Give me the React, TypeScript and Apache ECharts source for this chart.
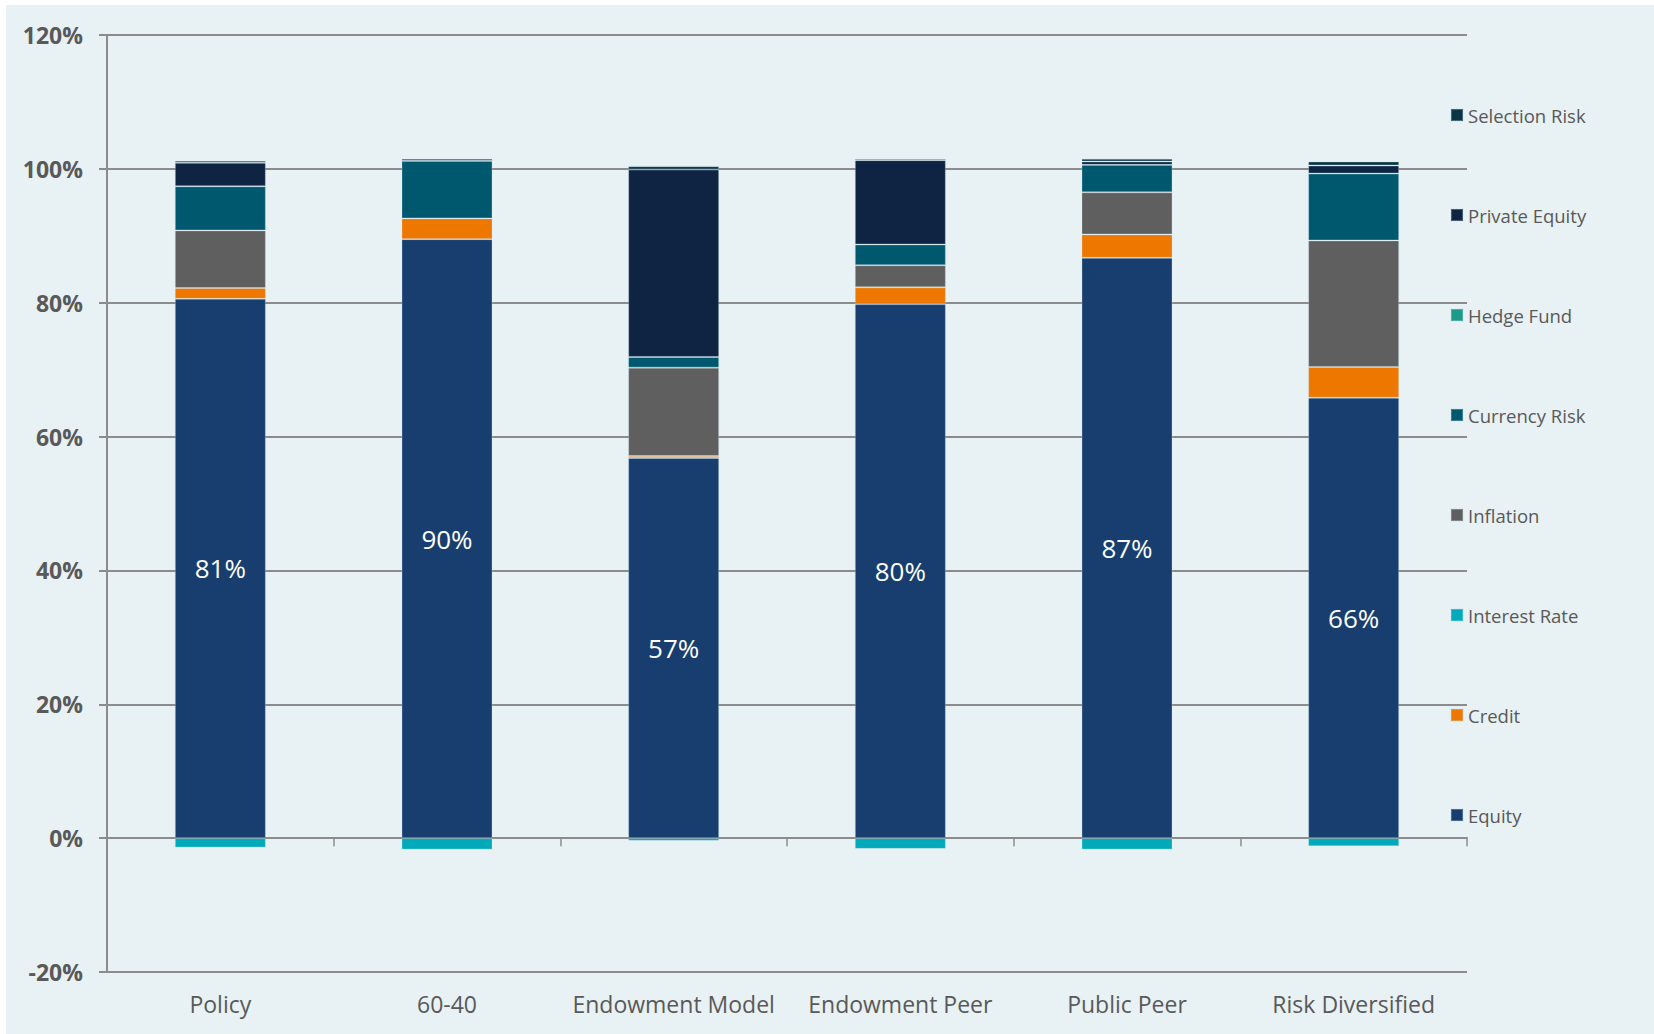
import React, { useEffect, useRef } from "react";
import * as echarts from "echarts";

const categories = ["Policy", "60-40", "Endowment Model", "Endowment Peer", "Public Peer", "Risk Diversified"];

const equity = [80.6, 89.5, 56.8, 79.8, 86.7, 65.8];
const credit = [1.6, 3.1, 0.3, 2.5, 3.5, 4.6];
const interestRate = [-1.4, -1.7, -0.4, -1.6, -1.7, -1.2];
const inflation = [8.6, 0, 13.2, 3.3, 6.3, 18.9];
const currencyRisk = [6.6, 8.6, 1.6, 3.1, 4.1, 10.0];
const hedgeFund = [0, 0, 0, 0, 0, 0];
const privateEquity = [3.5, 0, 28.0, 12.6, 0.5, 1.2];
const selectionRisk = [0.3, 0.3, 0.5, 0.2, 0.4, 0.6];

const yTicks = [-20, 0, 20, 40, 60, 80, 100, 120];

const seriesDefs = [
  { name: "Equity", data: equity, color: "#173E6E" },
  { name: "Credit", data: credit, color: "#EE7700" },
  { name: "Interest Rate", data: interestRate, color: "#00AABB" },
  { name: "Inflation", data: inflation, color: "#5F5F5F" },
  { name: "Currency Risk", data: currencyRisk, color: "#00586F" },
  { name: "Hedge Fund", data: hedgeFund, color: "#1E9A8A" },
  { name: "Private Equity", data: privateEquity, color: "#0F2442" },
  { name: "Selection Risk", data: selectionRisk, color: "#0A3545" },
];

const FONT = "'Open Sans', 'DejaVu Sans', sans-serif";
const TXT = "#595959";
const LINE = "#8C8C8C";

export default function App() {
  const ref = useRef<HTMLDivElement>(null);
  useEffect(() => {
    if (!ref.current) return;
    const chart = echarts.init(ref.current, null, { renderer: "svg" });
    chart.setOption({
      animation: false,
      backgroundColor: "#E8F1F4",
      textStyle: { fontFamily: FONT },
      grid: { left: 101, right: 187, top: 30, bottom: 62, containLabel: false },
      legend: {
        orient: "vertical",
        left: 1439,
        top: 93,
        itemWidth: 12,
        itemHeight: 12,
        itemGap: 76,
        icon: "rect",
        data: seriesDefs.map((s) => s.name).reverse(),
        textStyle: { fontFamily: FONT, fontSize: 18.5, color: TXT, lineHeight: 24 },
        selectedMode: false,
      },
      xAxis: [
        {
          type: "category",
          data: categories,
          position: "bottom",
          axisLine: { show: true, onZero: true, lineStyle: { color: LINE, width: 2 } },
          axisTick: { show: true, length: 8, interval: 0, lineStyle: { color: LINE, width: 1.5 } },
          axisLabel: { show: false },
          splitLine: { show: false },
        },
        {
          type: "category",
          data: categories,
          position: "bottom",
          axisLine: { show: false, onZero: false },
          axisTick: { show: false },
          axisLabel: { show: true, interval: 0, margin: 20, fontSize: 23, color: TXT, fontFamily: FONT },
          splitLine: { show: false },
        },
      ],
      yAxis: {
        type: "value",
        min: yTicks[0],
        max: yTicks[yTicks.length - 1],
        interval: 20,
        axisLine: { show: true, lineStyle: { color: LINE, width: 2 } },
        axisTick: { show: true, length: 8, lineStyle: { color: LINE, width: 2 } },
        axisLabel: {
          formatter: "{value}%",
          fontSize: 23,
          fontWeight: "bold",
          color: TXT,
          margin: 24,
          fontFamily: FONT,
        },
        splitLine: { show: true, lineStyle: { color: LINE, width: 2 } },
      },
      series: seriesDefs.map((s) => ({
        name: s.name,
        type: "bar",
        stack: "total",
        xAxisIndex: 0,
        barWidth: 91,
        data: s.data,
        itemStyle: { color: s.color, borderColor: "rgba(200,225,235,0.3)", borderWidth: 1 },
        label:
          s.name === "Equity"
            ? {
                show: true,
                position: "inside",
                color: "#FFFFFF",
                fontSize: 26,
                fontFamily: FONT,
                formatter: (p: any) => Math.round(p.value) + "%",
              }
            : { show: false },
        emphasis: { disabled: true },
      })),
    });
    return () => chart.dispose();
  }, []);
  return (
    <div style={{ position: "absolute", left: 0, top: 0, width: 1654, height: 1034, background: "#FFFFFF" }}>
      <div ref={ref} style={{ position: "absolute", left: 6, top: 5, width: 1648, height: 1029 }} />
    </div>
  );
}
